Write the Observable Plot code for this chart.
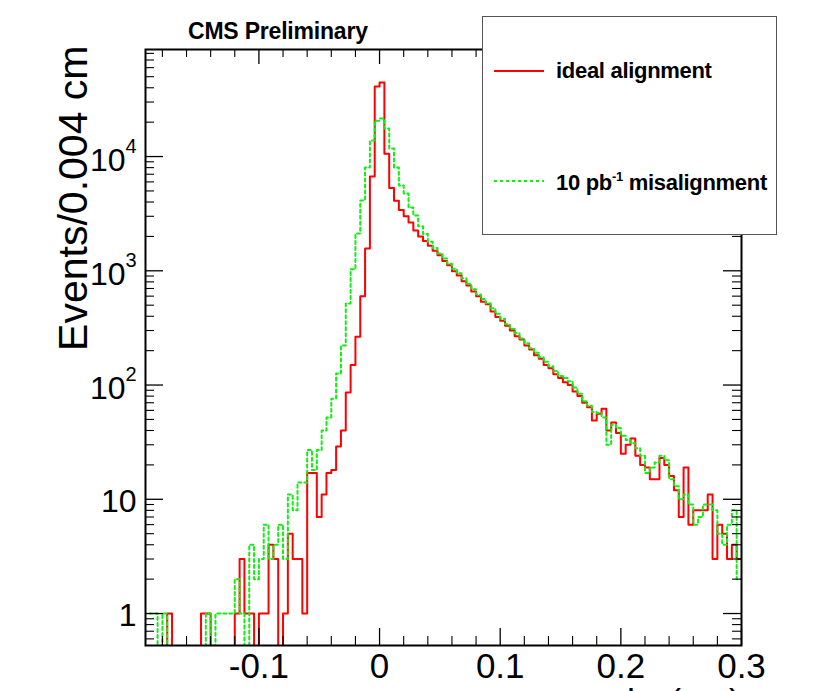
<!DOCTYPE html>
<html><head><meta charset="utf-8">
<script src="https://cdn.jsdelivr.net/npm/d3@7"></script>
<script src="https://cdn.jsdelivr.net/npm/@observablehq/plot@0.6"></script>
<style>
html,body{margin:0;padding:0;background:#fff;overflow:hidden}
#wrap{position:relative;width:826px;height:691px;font-family:'Liberation Sans',Arial,Helvetica,sans-serif;color:#000}
#wrap > svg{position:absolute;left:0;top:0}
.title{position:absolute;left:188px;top:20px;font-weight:bold;font-size:23px;line-height:1;letter-spacing:-0.2px;white-space:nowrap}
.legend{position:absolute;left:482px;top:16px;width:295px;height:219px;box-sizing:border-box;border:1.5px solid #555;background:#fff}
.legend .lab{position:absolute;left:73px;font-weight:bold;font-size:22px;line-height:1;letter-spacing:-0.3px;white-space:nowrap}
.legend .sw{position:absolute;left:10px}
.xlabel{position:absolute;right:85px;top:685px;font-size:36px;line-height:1;white-space:nowrap}
.xlabel sub{font-size:24px}
</style></head><body><div id="wrap"></div>
<script>
// ---- binning ----
const FIRST_EDGE = -0.196;
const BIN_WIDTH = 0.004;

// ---- series values (events per 0.004 cm bin) ----
const idealAlignment = [
  0,0,0,0,0,1,0,0,0,0,
  0,0,1,1,0,0,0,0,0,1,
  3,1,1,0,1,1,4,3,0,1,
  5,3,3,1,17,17,7,11,17,18,
  29,40,86,150,265,600,1570,6700,41000,44500,
  10600,5300,4100,3400,3000,2650,2250,2000,1820,1660,
  1500,1370,1220,1120,990,910,810,745,660,600,
  535,510,440,395,365,330,300,268,250,222,
  205,182,170,150,140,124,115,106,100,88,
  80,70,64,49,56,62,40,47,38,25,
  30,34,24,20,19,15,15,23,20,16,
  12,7,19,6,8,8,8,11,3,6,
  5,3,4,3
];
const misalignment10pb = [
  1,1,1,0,1,0,0,0,0,0,
  0,0,0,1,0,1,1,1,1,2,
  1,0,4,2,3,6,3,4,6,3,
  11,8,14,14,27,18,27,40,52,76,
  126,222,517,1030,2120,4120,8000,13800,20600,21500,
  17600,11750,8000,5570,4750,3580,3050,2450,2100,1800,
  1580,1420,1280,1150,1040,950,860,770,690,620,
  565,520,470,420,380,340,310,285,255,232,
  210,192,175,160,146,133,120,115,108,95,
  84,72,66,58,57,52,30,45,42,36,
  33,31,28,24,17,19,21,24,22,15,
  13,10,11,9,6,7,9,9,8,5,
  4,6,8,2
];

// ---- axes / ticks ----
const xDomain = [-0.194, 0.3];
const yDomain = [0.525, 86500];
const xTickValues = [-0.1, 0, 0.1, 0.2, 0.3];
const xTickLabels = ["-0.1", "0", "0.1", "0.2", "0.3"];
const yTickValues = [1, 10, 100, 1000, 10000];
const yTickBase = ["1", "10", "10", "10", "10"];
const yTickExp = ["", "", "2", "3", "4"];
const yLabel = "Events/0.004 cm";
const seriesNames = ["ideal alignment", "10 pb-1 misalignment"];

function steps(vals) {
  const pts = vals.map((v, i) => ({x: FIRST_EDGE + i * BIN_WIDTH, v}));
  pts.push({x: FIRST_EDGE + vals.length * BIN_WIDTH, v: vals[vals.length - 1]});
  return pts;
}
const redPts = steps(idealAlignment);
const greenPts = steps(misalignment10pb);

const xMinor = d3.range(-0.18, 0.3001, 0.02).map(d => +d.toFixed(3)).filter(d => !xTickValues.some(t => Math.abs(t - d) < 1e-9));
const yMinor = [];
[0.1, 1, 10, 100, 1000, 10000].forEach(p => { for (let k = 2; k <= 9; k++) { const v = k * p; if (v > yDomain[0] && v < yDomain[1]) yMinor.push(v); } });

const W = 826, H = 691, mL = 145, mR = 85, mT = 49, mB = 46;
const fw = W - mL - mR, fh = H - mT - mB;
const FONT = "'Liberation Sans', Arial, Helvetica, sans-serif";

const chart = Plot.plot({
  width: W, height: H,
  marginLeft: mL, marginRight: mR, marginTop: mT, marginBottom: mB,
  x: {domain: xDomain, axis: null},
  y: {type: "log", domain: yDomain, axis: null},
  style: {background: "white", fontFamily: FONT, color: "black", overflow: "visible"},
  marks: [
    Plot.line(redPts, {x: "x", y: d => Math.max(d.v, 0.05), curve: "step-after", stroke: "#ff0000", strokeWidth: 2, clip: true}),
    Plot.line(greenPts, {x: "x", y: d => Math.max(d.v, 0.05), curve: "step-after", stroke: "#11ee11", strokeWidth: 2, strokeDasharray: "3,3", clip: true}),
    Plot.tickX(xTickValues, {x: d => d, insetTop: fh - 17, stroke: "#000", strokeWidth: 1.3}),
    Plot.tickX(xMinor, {x: d => d, insetTop: fh - 9, stroke: "#000", strokeWidth: 1.1}),
    Plot.tickX(xTickValues, {x: d => d, insetBottom: fh - 15, stroke: "#000", strokeWidth: 1.3}),
    Plot.tickX(xMinor, {x: d => d, insetBottom: fh - 8, stroke: "#000", strokeWidth: 1.1}),
    Plot.tickY(yTickValues, {y: d => d, insetRight: fw - 18, stroke: "#000", strokeWidth: 1.3}),
    Plot.tickY(yMinor, {y: d => d, insetRight: fw - 9, stroke: "#000", strokeWidth: 1.1}),
    Plot.tickY(yTickValues, {y: d => d, insetLeft: fw - 18, stroke: "#000", strokeWidth: 1.3}),
    Plot.tickY(yMinor, {y: d => d, insetLeft: fw - 9, stroke: "#000", strokeWidth: 1.1}),
    Plot.frame({stroke: "#000", strokeWidth: 2}),
    Plot.text(xTickValues, {x: d => d, text: (d, i) => xTickLabels[i], frameAnchor: "bottom", lineAnchor: "top", dy: 8, fontSize: 35}),
    Plot.text(yTickValues.filter((d, i) => !yTickExp[i]), {y: d => d, text: d => yTickBase[yTickValues.indexOf(d)], frameAnchor: "left", textAnchor: "end", dx: -9, dy: 2, fontSize: 32}),
    Plot.text(yTickValues.filter((d, i) => yTickExp[i]), {y: d => d, text: d => yTickBase[yTickValues.indexOf(d)], frameAnchor: "left", textAnchor: "end", dx: -20, dy: 4, fontSize: 32}),
    Plot.text(yTickValues.filter((d, i) => yTickExp[i]), {y: d => d, text: d => yTickExp[yTickValues.indexOf(d)], frameAnchor: "left", textAnchor: "start", dx: -20, dy: -10, fontSize: 20}),
    Plot.text([yLabel], {frameAnchor: "top-left", rotate: -90, textAnchor: "end", dx: -88, dy: -4, fontSize: 41})
  ]
});

const wrap = document.getElementById("wrap");
wrap.appendChild(chart);

const title = document.createElement("div");
title.className = "title";
title.textContent = "CMS Preliminary";
wrap.appendChild(title);

const xl = document.createElement("div");
xl.className = "xlabel";
xl.innerHTML = "l<sub>xy</sub> (cm)";
wrap.appendChild(xl);

const lg = document.createElement("div");
lg.className = "legend";
lg.innerHTML =
  `<svg class="sw" width="52" height="6" style="top:51px"><line x1="1" x2="51" y1="3" y2="3" stroke="#ff0000" stroke-width="2"/></svg>` +
  `<div class="lab" style="top:43px">${seriesNames[0]}</div>` +
  `<svg class="sw" width="52" height="6" style="top:161px"><line x1="1" x2="51" y1="3" y2="3" stroke="#11ee11" stroke-width="2" stroke-dasharray="3,3"/></svg>` +
  `<div class="lab" style="top:153px">10 pb<sup style="font-size:13px;vertical-align:9px">-1</sup> misalignment</div>`;
wrap.appendChild(lg);
</script></body></html>
